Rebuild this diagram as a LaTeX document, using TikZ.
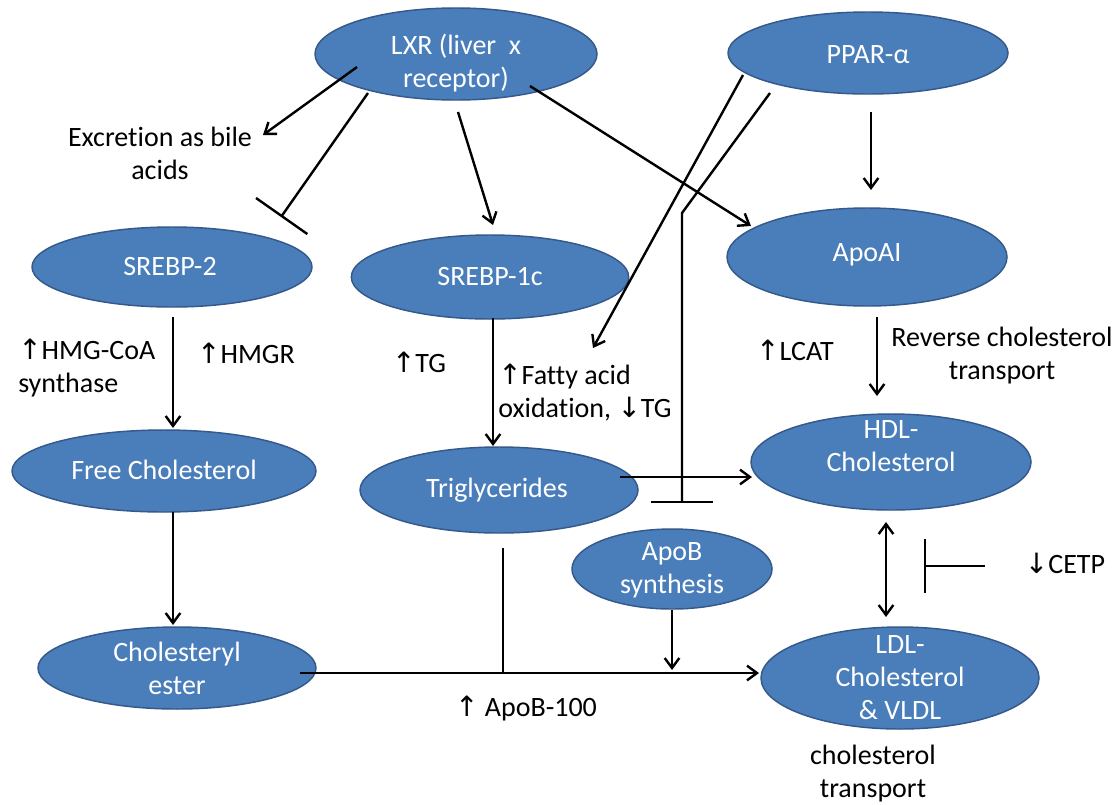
\documentclass[tikz,border=0pt]{standalone}
\usepackage{fontspec}
\setmainfont{Carlito}[Ligatures=NoCommon]
\newfontfamily\arrfont{DejaVu Sans}
\newcommand{\upar}{{\arrfont ↑}}
\newcommand{\dnar}{{\arrfont ↓}}
\usetikzlibrary{shapes.geometric,arrows.meta}
\definecolor{blobfill}{HTML}{4A7EBB}
\definecolor{blobedge}{HTML}{34598A}
\begin{document}
\begin{tikzpicture}[x=0.75pt,y=-0.75pt,
  every node/.style={font=\fontsize{21}{24.75}\selectfont},
  blob/.style 2 args={ellipse, draw=blobedge, fill=blobfill, line width=1.1pt,
    minimum width=#1, minimum height=#2, inner sep=0pt},
  wtxt/.style={text=white, align=center, inner sep=0pt},
  btxt/.style={text=black, align=center, inner sep=0pt},
  link/.style={line width=1.8pt},
  arr/.style={link, -{Straight Barb[length=7.5pt,width=11pt]}},
  darr/.style={link, {Straight Barb[length=7.5pt,width=11pt]}-{Straight Barb[length=7.5pt,width=11pt]}},
  inhib/.style={link, -{Bar[width=#1]}},
]
\useasboundingbox (0,0) rectangle (1119,804);
\fill[white] (0,0) rectangle (1119,804);

% ellipses
\node[blob={211.5pt}{69pt}]   (lxr)     at (456,54)  {};
\node[blob={210pt}{61.5pt}]   (ppar)    at (868,53)  {};
\node[blob={210pt}{60pt}]     (srebp2)  at (172,267) {};
\node[blob={208pt}{63pt}]     (srebp1c) at (490,277) {};
\node[blob={210pt}{73.5pt}]   (apoai)   at (867,257) {};
\node[blob={228pt}{61.5pt}]   (fc)      at (164,471) {};
\node[blob={208.5pt}{64.5pt}] (tg)      at (499,490) {};
\node[blob={210pt}{72pt}]     (hdl)     at (891,462) {};
\node[blob={150pt}{60pt}]     (apob)    at (672,569) {};
\node[blob={208.5pt}{61.5pt}] (ce)      at (177,668) {};
\node[blob={208.5pt}{76.5pt}] (ldl)     at (900,678) {};

% white labels
\node[wtxt] (lxrt)     at (456,63)  {LXR (liver\ \ x\\receptor)};
\node[wtxt] (ppart)    at (868,55)  {PPAR-α};
\node[wtxt] (srebp2t)  at (170,267) {SREBP-2};
\node[wtxt] (srebp1ct) at (490,277) {SREBP-1c};
\node[wtxt] (apoait)   at (867,255) {ApoAI};
\node[wtxt] (fct)      at (164,470) {Free Cholesterol};
\node[wtxt] (tgt)      at (497,490) {Triglycerides};
\node[wtxt] (hdlt)     at (891,446) {HDL-\\Cholesterol};
\node[wtxt] (apobt)    at (672,570) {ApoB\\synthesis};
\node[wtxt] (cet)      at (177,668) {Cholesteryl\\ester};
\node[wtxt] (ldlt)     at (900,678) {LDL-\\Cholesterol\\\& VLDL};

% black labels
\node[btxt] (exc)    at (160,153) {Excretion as bile\\acids};
\node[btxt, align=left, anchor=west] (hmg) at (18,368) {\upar HMG-CoA\\synthase};
\node[btxt] (hmgr)   at (246,353) {\upar HMGR};
\node[btxt] (uptg)   at (419,362) {\upar TG};
\node[btxt, align=left, anchor=west] (fatty) at (498,393) {\upar Fatty acid\\oxidation, \dnar TG};
\node[btxt, anchor=east] (lcat) at (834,350) {\upar LCAT};
\node[btxt] (rev)    at (1002,356) {Reverse cholesterol\\transport};
\node[btxt] (apob100) at (526,708) {\upar\ ApoB-100};
\node[btxt] (cetp)   at (1065,563) {\dnar CETP};
\node[btxt] (ctrans) at (873,774) {cholesterol\\transport};

% connector end points
\coordinate (lxrA) at (357,67);   \coordinate (excTip) at (263,135);
\coordinate (lxrB) at (368,93);   \coordinate (s2bar) at (281,217);
\coordinate (lxrC) at (458,112);  \coordinate (s1cTop) at (493,225);
\coordinate (lxrD) at (530,86);   \coordinate (apoaiTop) at (751,226);
\coordinate (pparA) at (743,75);  \coordinate (fattyTip) at (593,348);
\coordinate (pparB) at (770,93);  \coordinate (bend) at (682,213);
\coordinate (tgbar) at (682,503);
\coordinate (pparC) at (871,112); \coordinate (apoaiIn) at (871,190);
\coordinate (s2out) at (173,317); \coordinate (fcIn) at (173,428);
\coordinate (s1cout) at (493,318); \coordinate (tgIn) at (493,446);
\coordinate (apoaiOut) at (877,317); \coordinate (hdlIn) at (877,396);
\coordinate (tgOut) at (620,477); \coordinate (hdlLeft) at (752,477);
\coordinate (fcOut) at (173,512); \coordinate (ceIn) at (173,625);
\coordinate (ceOut) at (300,673); \coordinate (ldlLeft) at (759,673);
\coordinate (tgDown) at (503,548); \coordinate (join) at (503,673);
\coordinate (apobOut) at (672,610); \coordinate (apobIn) at (672,670);
\coordinate (hdlOut) at (886,522); \coordinate (ldlTop) at (886,617);
\coordinate (cetpFrom) at (985,566); \coordinate (cetpBar) at (924,566);

% connectors
\draw[arr] (lxrA) -- (excTip);
\draw[inhib=47pt] (lxrB) -- (s2bar);
\draw[arr] (lxrC) -- (s1cTop);
\draw[arr] (lxrD) -- (apoaiTop);
\draw[arr] (pparA) -- (fattyTip);
\draw[inhib=46pt] (pparB) -- (bend) -- (tgbar);
\draw[arr] (pparC) -- (apoaiIn);
\draw[arr] (s2out) -- (fcIn);
\draw[arr] (s1cout) -- (tgIn);
\draw[arr] (apoaiOut) -- (hdlIn);
\draw[arr] (tgOut) -- (hdlLeft);
\draw[arr] (fcOut) -- (ceIn);
\draw[arr] (ceOut) -- (ldlLeft);
\draw[link] (tgDown) -- (join);
\draw[arr] (apobOut) -- (apobIn);
\draw[darr] (hdlOut) -- (ldlTop);
\draw[inhib=41pt] (cetpFrom) -- (cetpBar);
\end{tikzpicture}
\end{document}
